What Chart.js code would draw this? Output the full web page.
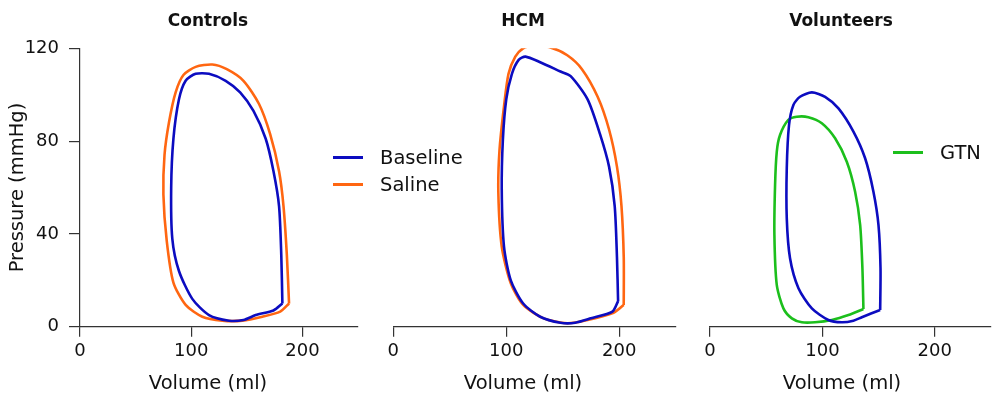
<!DOCTYPE html>
<html lang="en">
<head>
  <meta charset="UTF-8">
  <title>Pressure-volume loops</title>
  <script src="https://cdn.jsdelivr.net/npm/chart.js"></script>
  <style>
    body { margin: 0; background: #fff; width: 992px; height: 398px; overflow: hidden; position: relative; font-family: "DejaVu Sans", sans-serif; color: #111; }
    canvas { position: absolute; top: 0; }
    .label { position: absolute; text-align: center; width: 240px; line-height: 20px; white-space: nowrap; }
    .panel-title { font-weight: bold; font-size: 17px; top: 10px; }
    .axis-title { font-size: 19.5px; top: 373px; }
    .legend-row { position: absolute; display: flex; align-items: center; height: 26px; font-size: 19.5px; }
    .swatch { width: 30px; height: 3px; margin-right: 17px; }
  </style>
</head>
<body>
  <canvas id="controlsChart" width="370" height="398" style="left:0px"></canvas>
  <canvas id="hcmChart" width="310" height="398" style="left:380px"></canvas>
  <canvas id="volunteersChart" width="292" height="398" style="left:700px"></canvas>

  <div class="label panel-title" style="left:88px">Controls</div>
  <div class="label panel-title" style="left:403px">HCM</div>
  <div class="label panel-title" style="left:721px">Volunteers</div>

  <div class="label axis-title" style="left:88px">Volume (ml)</div>
  <div class="label axis-title" style="left:403px">Volume (ml)</div>
  <div class="label axis-title" style="left:722px">Volume (ml)</div>

  <div class="legend-row" style="left:333px; top:144px"><span class="swatch" style="background:#0c0cc0"></span>Baseline</div>
  <div class="legend-row" style="left:333px; top:171px"><span class="swatch" style="background:#ff6611"></span>Saline</div>
  <div class="legend-row" style="left:893px; top:139px"><span class="swatch" style="background:#1cbf1c"></span>GTN</div>

  <script>
    // loops: volume (ml) and pressure (mmHg)
    const controlsBaselineVol  = [182, 181, 179, 174, 167, 156, 144, 131, 116, 104, 95, 89, 84, 82, 83, 89, 101, 116, 134, 147, 158, 174, 182];
    const controlsBaselinePres = [10, 31, 52, 67, 81, 93, 101, 106, 109, 109, 106, 98, 81, 60, 38, 24, 12, 5, 2.6, 2.9, 5, 7, 10];

    const controlsSalineVol  = [188, 186, 183, 179, 171, 161, 147, 132, 119, 104, 93, 86, 80, 76, 75, 78, 84, 95, 110, 128, 146, 164, 180, 188];
    const controlsSalinePres = [10, 31, 52, 67, 83, 96, 106, 111, 113, 112, 108.5, 101, 88, 74, 57, 37, 19, 9.4, 4.3, 2.6, 2.6, 4.3, 6.5, 10];

    const hcmBaselineVol  = [199, 198, 196, 191, 183, 172, 157, 148, 130, 117, 111, 105, 100, 97, 96, 98, 104, 115, 130, 148, 161, 175, 194, 199];
    const hcmBaselinePres = [11, 30, 52, 69, 83, 98, 108, 110, 114, 116.4, 115, 109, 98, 80.5, 59, 34.5, 20, 10, 4.3, 1.7, 1.7, 3.6, 6.5, 11];

    const hcmSalineVol  = [204, 204, 202, 198, 191, 181, 167, 154, 139, 124, 115, 108, 102, 98, 94, 93, 96, 104, 115, 133, 154, 172, 195, 204];
    const hcmSalinePres = [9.4, 30, 52, 69, 85, 99, 111, 117, 120.4, 121, 120, 116.4, 109, 95, 76, 57.5, 34.5, 18.7, 9.4, 3.6, 1.5, 2.9, 6, 9.4];

    const volunteersBaselineVol  = [151.4, 151.7, 149.9, 145.4, 138, 127.6, 114.3, 102.4, 90.6, 80.1, 74.2, 70.3, 68.3, 68.3, 71.2, 78.7, 90.6, 105.3, 117.3, 127.6, 135.1, 151.4];
    const volunteersBaselinePres = [7.2, 25.2, 43.8, 58.2, 72.6, 84.1, 94.1, 99.1, 101, 99.1, 95.6, 86.9, 68.3, 46.7, 29.5, 16.6, 7.9, 2.9, 1.9, 2.6, 4.1, 7.2];

    const gtnVol  = [136.5, 135.6, 133.6, 129.1, 121.7, 111.3, 99.5, 87.5, 77.2, 69.7, 62.3, 59.4, 57.9, 57.3, 59.4, 65.3, 72.8, 81.7, 93.5, 108.4, 123.2, 136.5];
    const gtnPres = [7.6, 25.2, 43.8, 58.2, 71.1, 81.2, 87.7, 90.3, 90.5, 89.1, 82.6, 75.4, 61.1, 39.5, 18, 7.9, 3.6, 1.9, 1.9, 2.9, 5, 7.6];

    const xTicks = [0, 100, 200];
    const yTicks = [0, 40, 80, 120];

    const BLUE = '#0c0cc0', ORANGE = '#ff6611', GREEN = '#1cbf1c';
    const AXIS = '#333';

    const toPoints = (vol, pres) => vol.map((v, i) => ({ x: v, y: pres[i] }));
    const loop = (label, vol, pres, color) => ({
      label, data: toPoints(vol, pres), borderColor: color, borderWidth: 2.6,
      showLine: true, pointRadius: 0, tension: 0.25, fill: false
    });

    function makeChart(id, datasets, showY, padding) {
      return new Chart(document.getElementById(id), {
        type: 'scatter',
        data: { datasets },
        options: {
          responsive: false,
          animation: false,
          layout: { padding },
          plugins: { legend: { display: false }, tooltip: { enabled: false } },
          scales: {
            x: {
              min: 0, max: 250,
              afterBuildTicks: s => { s.ticks = xTicks.map(v => ({ value: v })); },
              afterFit: s => { s.height = 71.3; },
              grid: { drawOnChartArea: false, tickLength: 10, color: AXIS, lineWidth: 1.2 },
              border: { color: AXIS, width: 1.2 },
              ticks: { color: '#111', font: { family: 'DejaVu Sans', size: 18 }, padding: 4, maxRotation: 0 }
            },
            y: {
              display: showY,
              min: 0, max: 120,
              afterBuildTicks: s => { s.ticks = yTicks.map(v => ({ value: v })); },
              afterFit: s => { s.width = showY ? 80 : 0; },
              grid: { drawOnChartArea: false, tickLength: 11, color: AXIS, lineWidth: 1.2 },
              border: { color: AXIS, width: 1.2 },
              ticks: { color: '#111', font: { family: 'DejaVu Sans', size: 18 }, padding: 10 },
              title: {
                display: true, text: 'Pressure (mmHg)', color: '#111',
                font: { family: 'DejaVu Sans', size: 19.5 }, padding: { top: 6, bottom: 0 }
              }
            }
          }
        }
      });
    }

    makeChart('controlsChart', [
      loop('Baseline', controlsBaselineVol, controlsBaselinePres, BLUE),
      loop('Saline', controlsSalineVol, controlsSalinePres, ORANGE)
    ], true, { top: 48.3, right: 12, left: 0, bottom: 0 });

    makeChart('hcmChart', [
      loop('Baseline', hcmBaselineVol, hcmBaselinePres, BLUE),
      loop('Saline', hcmSalineVol, hcmSalinePres, ORANGE)
    ], false, { top: 48.3, right: 14.3, left: 13.3, bottom: 0 });

    makeChart('volunteersChart', [
      loop('Baseline', volunteersBaselineVol, volunteersBaselinePres, BLUE),
      loop('GTN', gtnVol, gtnPres, GREEN)
    ], false, { top: 48.3, right: 1, left: 10, bottom: 0 });
  </script>
</body>
</html>
